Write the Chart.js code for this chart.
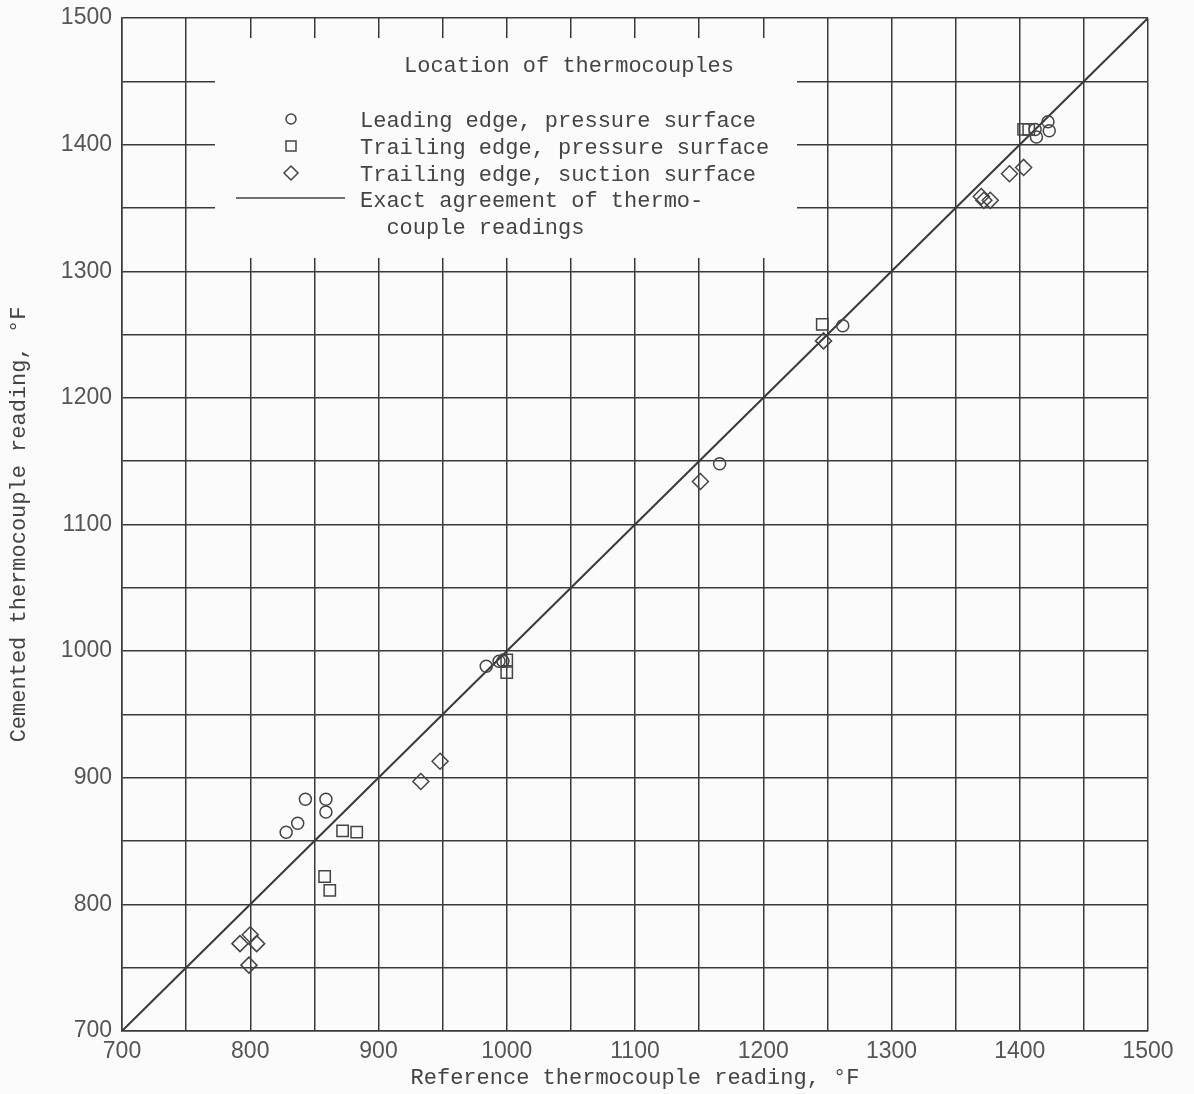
<!DOCTYPE html>
<html>
<head>
<meta charset="utf-8">
<script src="https://cdn.jsdelivr.net/npm/chart.js@4.4.0/dist/chart.umd.min.js"></script>
<style>
  html,body{margin:0;padding:0;background:#fbfbfb;}
  #wrap{width:1194px;height:1094px;position:relative;}
</style>
</head>
<body>
<div id="wrap"><canvas id="c" width="1194" height="1094"></canvas></div>
<script>
// ── DATA ──
const leadingX = [828, 837, 843, 859, 859, 984, 994, 997, 1166, 1262, 1412, 1413, 1422, 1423];
const leadingY = [857, 864, 883, 883, 873, 988, 992, 992, 1148, 1257, 1412, 1406, 1418, 1411];
const trailX   = [872, 883, 858, 862, 1000, 1000, 1246, 1403, 1407];
const trailY   = [858, 857, 822, 811, 993, 983, 1258, 1412, 1412];
const suctionX = [792, 800, 805, 799, 933, 948, 1151, 1247, 1370, 1372, 1377, 1392, 1403];
const suctionY = [769, 776, 769, 752, 897, 913, 1134, 1245, 1359, 1356, 1356, 1377, 1382];
const agreeX   = [700, 1500];
const agreeY   = [700, 1500];

const legendTitle = 'Location of thermocouples';
const legendLabels = [
  'Leading edge, pressure surface',
  'Trailing edge, pressure surface',
  'Trailing edge, suction surface',
  'Exact agreement of thermo-',
  '  couple readings'
];

const INK = '#3a3a3a';
const MONO = "'Liberation Mono', 'DejaVu Sans Mono', monospace";
const SANS = "'Liberation Sans', Arial, sans-serif";
const pts = (xs, ys) => xs.map((x, i) => ({x, y: ys[i]}));

// legend panel drawn over the grid
const legendPanel = {
  id: 'legendPanel',
  beforeDatasetsDraw(chart){
    const ctx = chart.ctx;
    ctx.save();
    ctx.fillStyle = '#fbfbfb';
    ctx.fillRect(215, 38, 582, 220);
    ctx.fillStyle = '#444';
    ctx.font = '22px ' + MONO;
    ctx.textBaseline = 'middle';
    ctx.textAlign = 'center';
    ctx.fillText(legendTitle, 569, 66);
    ctx.textAlign = 'left';
    const ys = [121, 148, 175, 201, 228];
    legendLabels.forEach((t, i) => ctx.fillText(t, 360, ys[i]));
    ctx.strokeStyle = '#444';
    ctx.lineWidth = 1.5;
    // symbols
    ctx.beginPath(); ctx.arc(291, 119, 5, 0, Math.PI * 2); ctx.stroke();
    ctx.strokeRect(286, 141, 10, 10);
    ctx.beginPath();
    ctx.moveTo(291, 166); ctx.lineTo(298, 173); ctx.lineTo(291, 180); ctx.lineTo(284, 173); ctx.closePath();
    ctx.stroke();
    ctx.beginPath(); ctx.moveTo(236, 198); ctx.lineTo(345, 198); ctx.stroke();
    ctx.restore();
  }
};

const markerStyle = {
  borderColor: '#444', backgroundColor: 'rgba(0,0,0,0)', borderWidth: 1.5, showLine: false
};

new Chart(document.getElementById('c').getContext('2d'), {
  type: 'scatter',
  data: {
    datasets: [
      {label: 'Leading edge, pressure surface', data: pts(leadingX, leadingY), pointStyle: 'circle', pointRadius: 6, ...markerStyle},
      {label: 'Trailing edge, pressure surface', data: pts(trailX, trailY), pointStyle: 'rect', pointRadius: 8, ...markerStyle},
      {label: 'Trailing edge, suction surface', data: pts(suctionX, suctionY), pointStyle: 'rectRot', pointRadius: 8, ...markerStyle},
      {label: 'Exact agreement', type: 'line', data: pts(agreeX, agreeY), borderColor: INK, borderWidth: 2, pointRadius: 0, fill: false}
    ]
  },
  options: {
    responsive: false, animation: false,
    layout: {padding: {top: 18, right: 46, left: 0, bottom: 0}},
    plugins: {legend: {display: false}, tooltip: {enabled: false}},
    scales: {
      x: {
        type: 'linear', min: 700, max: 1500,
        afterFit: s => { s.height = 63; s.paddingLeft = 0; s.paddingRight = 0; },
        grid: {color: INK, lineWidth: 1.5, drawTicks: false},
        border: {color: INK, width: 1.5},
        ticks: {stepSize: 50, autoSkip: false, maxRotation: 0, padding: 7, color: '#555',
          font: {family: SANS, size: 23},
          callback: v => v % 100 === 0 ? v : ''},
        title: {display: true, text: 'Reference thermocouple reading, \u00B0F', color: '#444',
          font: {family: MONO, size: 22}, padding: {top: 0, bottom: 3}}
      },
      y: {
        type: 'linear', min: 700, max: 1500,
        afterFit: s => { s.width = 122; s.paddingTop = 0; s.paddingBottom = 0; },
        grid: {color: INK, lineWidth: 1.5, drawTicks: false},
        border: {color: INK, width: 1.5},
        ticks: {stepSize: 50, autoSkip: false, padding: 10, color: '#555',
          font: {family: SANS, size: 23},
          callback: v => v % 100 === 0 ? v : ''},
        title: {display: true, text: 'Cemented thermocouple reading, \u00B0F', color: '#444',
          font: {family: MONO, size: 22}, padding: {top: 6, bottom: 0}}
      }
    }
  },
  plugins: [legendPanel]
});
</script>
</body>
</html>
